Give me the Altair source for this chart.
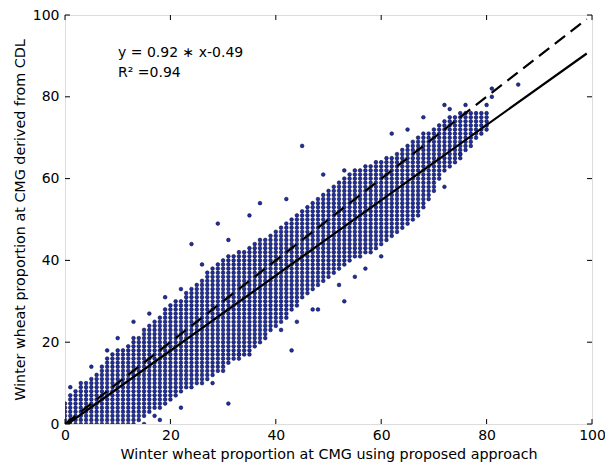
import altair as alt
import pandas as pd

# Per-column envelope of the integer-grid scatter (x value, lowest y, highest y)
col_x = list(range(0, 81))
col_lo = [0, 0, 0, 0, 0, 0, 0, 0, 0, 0,
          0, 0, 0, 0, 1, 2, 3, 4, 4, 5,
          6, 7, 8, 9, 9, 10, 10, 11, 12, 13,
          14, 15, 16, 16, 17, 18, 19, 20, 21, 23,
          24, 25, 26, 28, 29, 31, 32, 33, 34, 35,
          36, 37, 38, 39, 40, 41, 41, 42, 42, 43,
          44, 45, 46, 47, 48, 49, 50, 51, 53, 55,
          57, 60, 62, 63, 64, 65, 67, 68, 70, 71, 72]
col_hi = [5, 7, 8, 9, 10, 11, 12, 14, 16, 17,
          18, 18, 19, 21, 21, 23, 24, 25, 26, 28,
          29, 30, 30, 32, 33, 34, 35, 37, 38, 39,
          40, 41, 41, 42, 42, 43, 44, 45, 45, 46,
          47, 48, 49, 50, 51, 52, 53, 54, 55, 56,
          57, 58, 59, 60, 61, 62, 62, 63, 63, 64,
          64, 65, 65, 66, 67, 68, 69, 70, 71, 71,
          72, 73, 74, 75, 75, 76, 76, 76, 76, 76, 76]

# Isolated points outside the dense band
extra_x = [1, 3, 5, 8, 10, 13, 16, 19, 22, 24, 26, 29, 31, 35, 37, 42, 45, 49, 53,
           15, 17, 18, 22, 28, 30, 31, 33, 35, 41, 43, 44, 47, 48, 52, 53, 55, 57,
           60, 72, 75, 62, 65, 68, 72, 73, 76, 80, 81, 81, 86]
extra_y = [9, 10, 14, 18, 21, 25, 27, 31, 33, 44, 39, 49, 45, 51, 54, 55, 68, 61, 62,
           0, 2, 1, 4, 10, 13, 5, 17, 17, 23, 18, 25, 28, 28, 34, 30, 36, 38,
           41, 58, 66, 71, 72, 75, 78, 77, 78, 78, 80, 82, 83]

# Fit: y = 0.92*x - 0.49 ; 1:1 reference line
fit_x = [0.53, 99.0]
fit_y = [0.0, 90.59]
one_x = [0.0, 99.0]
one_y = [0.0, 99.0]

ticks = [0, 20, 40, 60, 80, 100]

xs, ys = [], []
for x, lo, hi in zip(col_x, col_lo, col_hi):
    for y in range(lo, hi + 1):
        xs.append(x)
        ys.append(y)
xs += extra_x
ys += extra_y
pts = pd.DataFrame({"x": xs, "y": ys})

W, H = 527, 409
font = "DejaVu Sans"

xscale = alt.Scale(domain=[0, 100], nice=False, zero=False)
yscale = alt.Scale(domain=[0, 100], nice=False, zero=False)

xaxis = alt.Axis(values=ticks, ticks=False, domain=False, grid=False, labelFont=font,
                 labelFontSize=14, labelColor="black", labelPadding=4, labelFlush=False,
                 title="Winter wheat proportion at CMG using proposed approach",
                 titleFont=font, titleFontSize=14.3, titleFontWeight="normal",
                 titleColor="black", titlePadding=5)
yaxis = alt.Axis(values=ticks, ticks=False, domain=False, grid=False, labelFont=font,
                 labelFontSize=14, labelColor="black", labelPadding=6, labelFlush=False,
                 title="Winter wheat proportion at CMG derived from CDL",
                 titleFont=font, titleFontSize=14.3, titleFontWeight="normal",
                 titleColor="black", titlePadding=5)

scatter = alt.Chart(pts).mark_point(
    shape="circle", filled=True, size=14, fill="#1f2fa8", stroke="#000022",
    strokeWidth=0.5, opacity=1, clip=True
).encode(
    x=alt.X("x:Q", scale=xscale, axis=xaxis),
    y=alt.Y("y:Q", scale=yscale, axis=yaxis),
)

fit = alt.Chart(pd.DataFrame({"x": fit_x, "y": fit_y})).mark_line(
    color="black", strokeWidth=2.2, clip=True
).encode(x=alt.X("x:Q", scale=xscale), y=alt.Y("y:Q", scale=yscale))

one = alt.Chart(pd.DataFrame({"x": one_x, "y": one_y})).mark_line(
    color="black", strokeWidth=2.2, strokeDash=[13, 7], clip=True
).encode(x=alt.X("x:Q", scale=xscale), y=alt.Y("y:Q", scale=yscale))

tdf = pd.DataFrame({"t": ticks})
tick_bottom = alt.Chart(tdf).mark_rule(color="black", strokeWidth=1).encode(
    x=alt.X("t:Q", scale=xscale), y=alt.value(H), y2=alt.value(H - 5))
tick_top = alt.Chart(tdf).mark_rule(color="black", strokeWidth=1).encode(
    x=alt.X("t:Q", scale=xscale), y=alt.value(0), y2=alt.value(5))
tick_left = alt.Chart(tdf).mark_rule(color="black", strokeWidth=1).encode(
    y=alt.Y("t:Q", scale=yscale), x=alt.value(0), x2=alt.value(5))
tick_right = alt.Chart(tdf).mark_rule(color="black", strokeWidth=1).encode(
    y=alt.Y("t:Q", scale=yscale), x=alt.value(W), x2=alt.value(W - 5))

ann = pd.DataFrame({"label": ["y = 0.92 ∗ x-0.49", "R² =0.94"], "row": [0, 1]})
text1 = alt.Chart(ann[ann.row == 0]).mark_text(
    font=font, fontSize=14, align="left", baseline="alphabetic", color="black"
).encode(text="label:N", x=alt.value(53), y=alt.value(42))
text2 = alt.Chart(ann[ann.row == 1]).mark_text(
    font=font, fontSize=14, align="left", baseline="alphabetic", color="black"
).encode(text="label:N", x=alt.value(53), y=alt.value(62))

chart = alt.layer(
    scatter, one, fit, tick_bottom, tick_top, tick_left, tick_right, text1, text2
).properties(
    width=W, height=H,
    autosize=alt.AutoSizeParams(type="none"),
    padding={"left": 57, "top": 7, "right": 13, "bottom": 40},
).configure_view(
    stroke="black", strokeWidth=1.2
).configure(background="white")

chart.save("out.html", embed_options={"renderer": "svg", "actions": False})
